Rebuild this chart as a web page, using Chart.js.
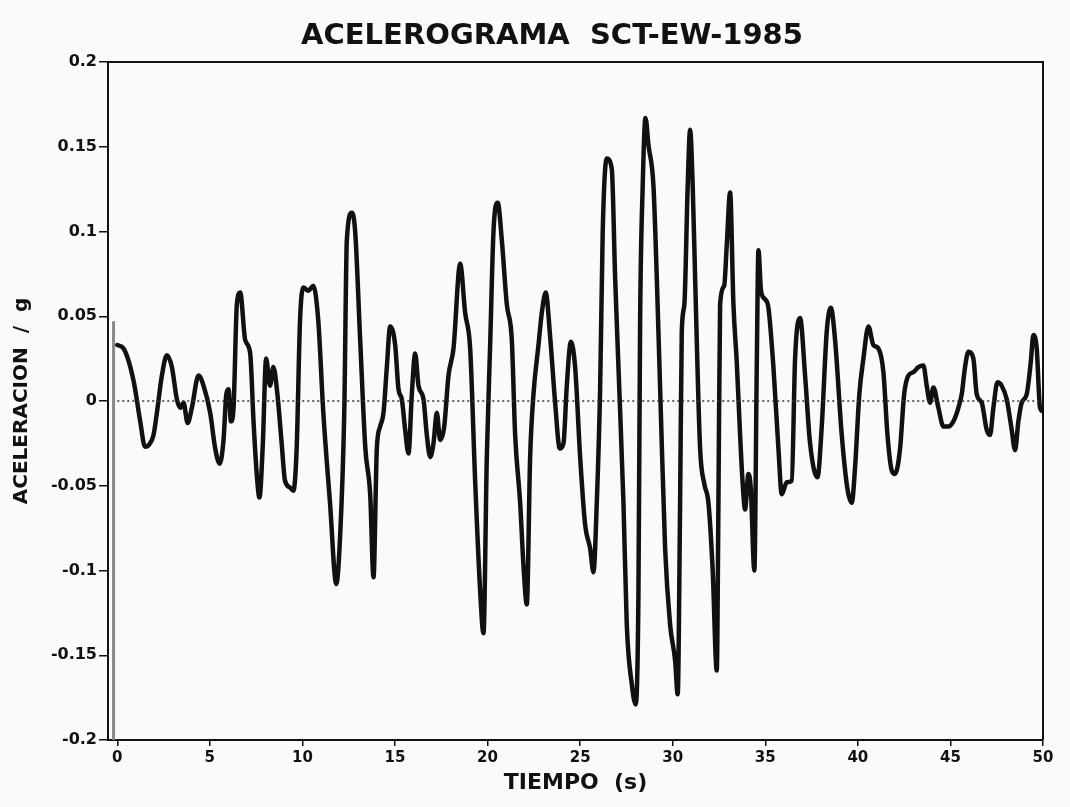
<!DOCTYPE html>
<html>
<head>
<meta charset="utf-8">
<script src="https://cdn.jsdelivr.net/npm/chart.js@4"></script>
<style>
  html, body { margin: 0; padding: 0; background: #fafafa; }
  #wrap { width: 1070px; height: 807px; }
</style>
</head>
<body>
<div id="wrap"><canvas id="accel"></canvas></div>
<script>
//Time (s) and acceleration (g) read from the record
const Tiempo = [
  0, 0.34, 0.88, 1.24, 1.5, 1.7, 1.96, 2.14, 2.41, 2.68, 2.95, 3.22, 3.4, 3.58, 3.8, 4.03, 4.39, 4.66,
  5.02, 5.29, 5.53, 5.74, 5.89, 6.01, 6.14, 6.28, 6.46, 6.64, 6.91, 7.18, 7.36, 7.54, 7.68, 7.86,
  8.04, 8.25, 8.43, 8.65, 8.88, 9.06, 9.33, 9.51, 9.69, 9.87, 10.05, 10.32, 10.59, 10.86, 11.13,
  11.49, 11.83, 12.04, 12.26, 12.4, 12.67, 12.85, 13.12, 13.4, 13.66, 13.84, 14.02, 14.2, 14.38,
  14.56, 14.74, 15.01, 15.19, 15.37, 15.55, 15.73, 15.91, 16.09, 16.27, 16.54, 16.72, 16.9, 17.08,
  17.26, 17.44, 17.66, 17.89, 18.16, 18.52, 18.79, 19.06, 19.33, 19.6, 19.78, 19.96, 20.14, 20.32,
  20.55, 20.77, 21.04, 21.31, 21.49, 21.76, 21.94, 22.12, 22.3, 22.48, 22.75, 22.93, 23.14, 23.38,
  23.65, 23.9, 24.1, 24.28, 24.5, 24.73, 25.0, 25.27, 25.54, 25.72, 25.9, 26.08, 26.22, 26.44,
  26.71, 26.89, 27.07, 27.34, 27.52, 27.79, 28.0, 28.15, 28.24, 28.38, 28.53, 28.69, 28.96, 29.14,
  29.36, 29.59, 29.86, 30.13, 30.27, 30.4, 30.49, 30.63, 30.81, 30.94, 31.08, 31.21, 31.48, 31.71,
  31.93, 32.16, 32.38, 32.47, 32.56, 32.78, 32.92, 33.1, 33.28, 33.46, 33.64, 33.77, 33.91, 34.09,
  34.22, 34.41, 34.54, 34.63, 34.77, 34.99, 35.17, 35.44, 35.71, 35.89, 36.16, 36.43, 36.61, 36.88,
  37.15, 37.42, 37.82, 38.05, 38.32, 38.54, 38.77, 39.13, 39.44, 39.67, 39.85, 40.08, 40.3, 40.57,
  40.84, 41.11, 41.38, 41.6, 41.83, 42.01, 42.28, 42.5, 42.73, 43.0, 43.27, 43.54, 43.72, 43.9,
  44.08, 44.35, 44.62, 44.89, 45.16, 45.43, 45.61, 45.79, 45.97, 46.24, 46.42, 46.69, 46.96, 47.14,
  47.32, 47.54, 47.77, 48.04, 48.31, 48.49, 48.67, 48.85, 49.12, 49.34, 49.48, 49.66, 49.84, 50.0
];
const Aceleracion = [
  0.033, 0.031, 0.012, -0.012, -0.027, -0.026, -0.020, -0.007, 0.015, 0.027, 0.020, 0.001, -0.004, -0.001, -0.013, -0.004, 0.015, 0.009,
  -0.007, -0.028, -0.037, -0.023, 0.004, 0.007, -0.012, -0.004, 0.057, 0.064, 0.036, 0.028, -0.012, -0.044, -0.057, -0.026,
  0.025, 0.009, 0.020, 0.004, -0.025, -0.047, -0.051, -0.053, -0.028, 0.047, 0.067, 0.065, 0.068, 0.047, -0.007,
  -0.060, -0.108, -0.079, -0.007, 0.095, 0.111, 0.100, 0.036, -0.028, -0.055, -0.104, -0.028, -0.015, -0.007,
  0.020, 0.044, 0.033, 0.007, 0.001, -0.017, -0.031, 0.004, 0.028, 0.009, 0.001, -0.020, -0.033, -0.025,
  -0.007, -0.023, -0.015, 0.015, 0.031, 0.081, 0.052, 0.031, -0.047, -0.112, -0.137, -0.033, 0.033, 0.100,
  0.117, 0.095, 0.057, 0.036, -0.020, -0.060, -0.097, -0.120, -0.033, 0.004, 0.033, 0.052, 0.064, 0.038,
  -0.001, -0.028, -0.025, 0.009, 0.035, 0.020, -0.033, -0.073, -0.087, -0.101, -0.060, 0.007, 0.100, 0.143,
  0.137, 0.073, 0.020, -0.060, -0.132, -0.167, -0.179, -0.113, 0.047, 0.127, 0.167, 0.151, 0.127, 0.073,
  -0.007, -0.087, -0.132, -0.153, -0.173, -0.060, 0.041, 0.057, 0.127, 0.160, 0.127, 0.073, -0.028, -0.049,
  -0.060, -0.100, -0.159, -0.060, 0.057, 0.068, 0.092, 0.123, 0.057, 0.023, -0.020, -0.047, -0.064, -0.043,
  -0.052, -0.100, 0.020, 0.089, 0.065, 0.060, 0.055, 0.020, -0.028, -0.055, -0.048, -0.047, 0.025, 0.049,
  0.015, -0.025, -0.045, -0.015, 0.041, 0.055, 0.036, -0.020, -0.052, -0.060, -0.039, 0.004, 0.025, 0.044,
  0.033, 0.031, 0.017, -0.020, -0.041, -0.043, -0.028, 0.004, 0.015, 0.017, 0.020, 0.021, 0.009, -0.001,
  0.008, -0.004, -0.015, -0.015, -0.012, -0.004, 0.004, 0.020, 0.029, 0.025, 0.004, -0.001, -0.017, -0.020,
  -0.004, 0.011, 0.009, 0.001, -0.017, -0.029, -0.012, -0.001, 0.004, 0.023, 0.039, 0.031, -0.004, -0.006
];

//Zero reference line
const CeroX = [0, 50];
const CeroY = [0, 0];

//Grey trace at the start of the record (t = 0)
const InicioX = [-0.2, -0.2];
const InicioY = [0.047, -0.2];

//Tick labels
const xTicks = [0, 5, 10, 15, 20, 25, 30, 35, 40, 45, 50];
const yTicks = [0.2, 0.15, 0.1, 0.05, 0, -0.05, -0.1, -0.15, -0.2];
const yTickLabels = ['0.2', '0.15', '0.1', '0.05', '0', '-0.05', '-0.1', '-0.15', '-0.2'];

const TITULO = 'ACELEROGRAMA  SCT-EW-1985';
const FONT = '"DejaVu Sans", "Liberation Sans", Arial, sans-serif';

const toPoints = (xs, ys) => xs.map((x, i) => ({ x: x, y: ys[i] }));

//draws the top and right side of the frame, and the title (centred on the page)
const framePlugin = {
  id: 'frame',
  afterDraw(chart) {
    const { ctx, chartArea: a } = chart;
    ctx.save();
    ctx.strokeStyle = '#111';
    ctx.lineWidth = 2;
    ctx.beginPath();
    ctx.moveTo(a.left, a.top);
    ctx.lineTo(a.right, a.top);
    ctx.lineTo(a.right, a.bottom);
    ctx.stroke();

    ctx.fillStyle = '#111';
    ctx.font = 'bold 29px ' + FONT;
    ctx.textAlign = 'center';
    ctx.textBaseline = 'middle';
    ctx.fillText(TITULO, 552, 36);
    ctx.restore();
  }
};

const ctx = document.getElementById('accel');

new Chart(ctx, {
  type: 'line',
  data: {
    datasets: [{
      label: 'cero',
      data: toPoints(CeroX, CeroY),
      borderColor: '#333',
      borderWidth: 1.5,
      borderDash: [2, 3],
      pointRadius: 0,
      tension: 0,
    }, {
      label: 'inicio',
      data: toPoints(InicioX, InicioY),
      borderColor: '#888',
      borderWidth: 3,
      pointRadius: 0,
      tension: 0,
    }, {
      label: 'SCT-EW',
      data: toPoints(Tiempo, Aceleracion),
      borderColor: '#111',
      borderWidth: 4.5,
      pointRadius: 0,
      cubicInterpolationMode: 'monotone',
      borderJoinStyle: 'round',
      borderCapStyle: 'round',
    }]
  },
  options: {
    responsive: true,
    maintainAspectRatio: false,
    animation: false,
    layout: { padding: { left: 0, right: 27, top: 62, bottom: 0 } },
    plugins: {
      legend: { display: false },
      tooltip: { enabled: false },
      title: { display: false }
    },
    scales: {
      x: {
        type: 'linear',
        min: -0.5,
        max: 50,
        afterFit: (scale) => { scale.height = 67; },
        afterBuildTicks: (scale) => { scale.ticks = xTicks.map(v => ({ value: v })); },
        ticks: {
          color: '#111',
          padding: 3,
          maxRotation: 0,
          font: { family: FONT, size: 15, weight: 'bold' }
        },
        grid: { drawOnChartArea: false, drawTicks: true, tickLength: 6, color: '#111', lineWidth: 1.5 },
        border: { display: true, color: '#111', width: 2 },
        title: {
          display: true,
          text: 'TIEMPO  (s)',
          color: '#111',
          font: { family: FONT, size: 22, weight: 'bold' },
          padding: { top: 4, bottom: 10.8 }
        }
      },
      y: {
        type: 'linear',
        min: -0.2,
        max: 0.2,
        afterFit: (scale) => { scale.width = 108; },
        afterBuildTicks: (scale) => { scale.ticks = yTicks.map(v => ({ value: v })); },
        ticks: {
          color: '#111',
          padding: 2,
          font: { family: FONT, size: 16, weight: 'bold' },
          callback: (value) => {
            const i = yTicks.findIndex(v => Math.abs(v - value) < 1e-9);
            return i >= 0 ? yTickLabels[i] : '';
          }
        },
        grid: { drawOnChartArea: false, drawTicks: true, tickLength: 9, color: '#111', lineWidth: 1.5 },
        border: { display: true, color: '#111', width: 2 },
        title: {
          display: true,
          text: 'ACELERACION  /  g',
          color: '#111',
          font: { family: FONT, size: 20, weight: 'bold' },
          padding: { top: 10, bottom: 4 }
        }
      }
    }
  },
  plugins: [framePlugin]
});
</script>
</body>
</html>
